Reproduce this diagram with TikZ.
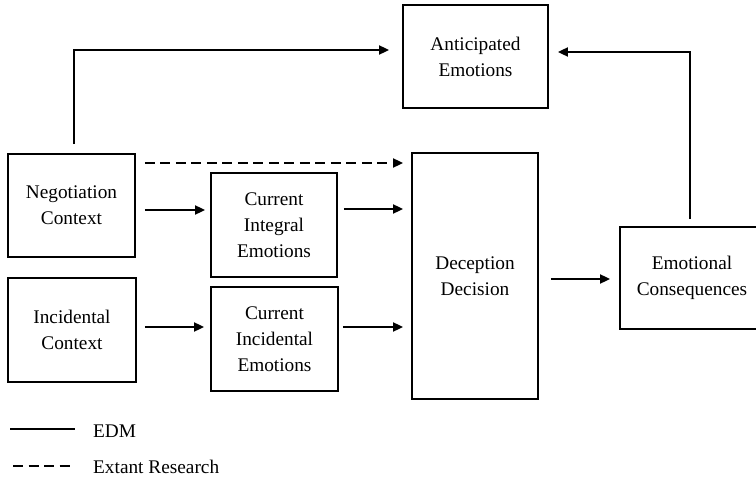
\documentclass[tikz,border=0pt]{standalone}
\usepackage{fontspec}
\setmainfont{Liberation Serif}
\usetikzlibrary{arrows.meta,calc}
\begin{document}
\begin{tikzpicture}[x=1pt,y=-1pt,
  box/.style={draw,line width=1.8pt,align=center,inner sep=0pt,
    font=\fontsize{19.3}{26}\selectfont},
  arr/.style={line width=1.8pt,-{Triangle[length=10pt,width=9pt]}},
  dsh/.style={dash pattern=on 10pt off 5.5pt},
  lbl/.style={anchor=west,inner sep=0pt,font=\fontsize{19.3}{26}\selectfont}]
\useasboundingbox (0,0) rectangle (756,479);
\clip (0,0) rectangle (756,479);
\node[box,minimum width=127pt,minimum height=103pt] (neg) at (71.5,205.5) {Negotiation\\Context};
\node[box,minimum width=128pt,minimum height=104pt] (inc) at (72,330) {Incidental\\Context};
\node[box,minimum width=126pt,minimum height=104pt] (ci) at (274,225) {Current\\Integral\\Emotions};
\node[box,minimum width=127pt,minimum height=104pt] (cinc) at (274.5,339) {Current\\Incidental\\Emotions};
\node[box,minimum width=145pt,minimum height=103pt] (ant) at (475.5,56.5) {Anticipated\\Emotions};
\node[box,minimum width=126pt,minimum height=246pt] (dec) at (475,276) {Deception\\Decision};
\node[box,minimum width=144pt,minimum height=102pt] (emo) at (692,278) {Emotional\\Consequences};
% connectors
\draw[arr,shorten <=9pt,shorten >=13pt] ([xshift=2.5pt]neg.north) |- (ant.west |- 0,50);
\draw[arr,shorten <=7pt,shorten >=9pt] ([xshift=-2pt]emo.north) |- (ant.east |- 0,52);
\draw[arr,dsh,shorten <=9pt,shorten >=8pt] (neg.east |- 0,163) -- (dec.west |- 0,163);
\draw[arr,shorten <=9pt,shorten >=5pt] (neg.east |- 0,210) -- (ci.west |- 0,210);
\draw[arr,shorten <=6pt,shorten >=8pt] (ci.east |- 0,209) -- (dec.west |- 0,209);
\draw[arr,shorten <=8pt,shorten >=6pt] (inc.east |- 0,327) -- (cinc.west |- 0,327);
\draw[arr,shorten <=4pt,shorten >=8pt] (cinc.east |- 0,327) -- (dec.west |- 0,327);
\draw[arr,shorten <=12pt,shorten >=9pt] (dec.east |- 0,279) -- (emo.west |- 0,279);
% legend
\coordinate (l1a) at (10,429);
\coordinate (l1b) at (75,429);
\coordinate (l2a) at (13,466);
\coordinate (l2b) at (75,466);
\draw[line width=1.8pt] (l1a) -- (l1b);
\draw[line width=1.8pt,dsh] (l2a) -- (l2b);
\node[lbl] (edm) at (93,431) {EDM};
\node[lbl] (ext) at (93,467) {Extant Research};
\end{tikzpicture}
\end{document}
